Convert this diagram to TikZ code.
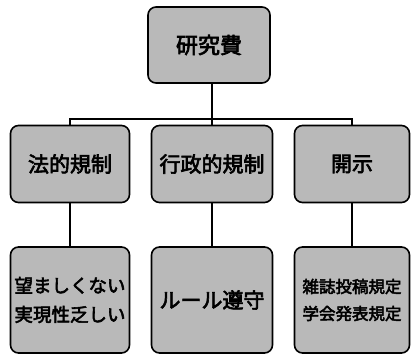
\documentclass[tikz,border=0pt]{standalone}
\usepackage{fontspec}
\newfontfamily\cjk[FakeBold=3]{Noto Sans CJK JP}
\begin{document}
\begin{tikzpicture}[x=1pt,y=-1pt,
  box/.style={draw=black,line width=1.6pt,rounded corners=8pt,fill=gray!55,inner sep=0pt},
  link/.style={line width=1.2pt,draw=black}]
\useasboundingbox (0,0) rectangle (413,358);
\node[box,minimum width=122pt,minimum height=76pt,font=\cjk\fontsize{22}{24}\selectfont] (top) at (209,45) {研究費};
\node[box,minimum width=119pt,minimum height=77pt,font=\cjk\fontsize{21}{24}\selectfont] (l2) at (70,164) {法的規制};
\node[box,minimum width=121pt,minimum height=77pt,font=\cjk\fontsize{21}{24}\selectfont] (m2) at (212,164) {行政的規制};
\node[box,minimum width=115pt,minimum height=77pt,font=\cjk\fontsize{21}{24}\selectfont] (r2) at (352,164) {開示};
\node[box,minimum width=119pt,minimum height=106pt,align=center,font=\cjk\fontsize{18.5}{29}\selectfont] (l3) at (70,300) {望ましくない\\実現性乏しい};
\node[box,minimum width=121pt,minimum height=106pt,font=\cjk\fontsize{21}{24}\selectfont] (m3) at (212,300) {ルール遵守};
\node[box,minimum width=115pt,minimum height=106pt,align=center,font=\cjk\fontsize{16.5}{27}\selectfont] (r3) at (352,300) {雑誌投稿規定\\学会発表規定};
\coordinate (hub) at (212,119);
\draw[link] (top.south -| hub) -- (hub);
\draw[link] (l2.north) |- (hub) -| (r2.north);
\draw[link] (hub) -- (m2.north);
\draw[link] (l2) -- (l3);
\draw[link] (m2) -- (m3);
\draw[link] (r2) -- (r3);
\end{tikzpicture}
\end{document}
